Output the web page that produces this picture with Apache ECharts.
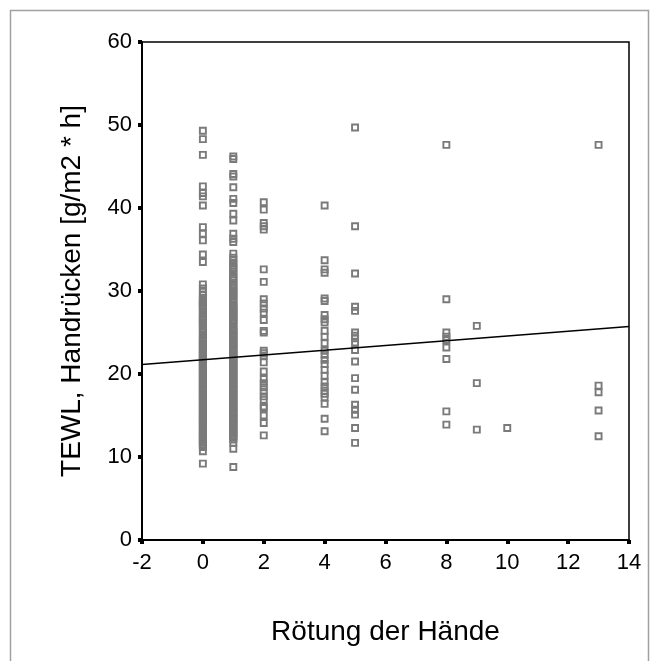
<!DOCTYPE html>
<html>
<head>
<meta charset="utf-8">
<script src="https://cdn.jsdelivr.net/npm/echarts@6/dist/echarts.min.js"></script>
<style>
html,body{margin:0;padding:0;background:#fff;}
#chart{width:659px;height:661px;}
</style>
</head>
<body>
<div id="chart"></div>
<script>
// Rötung der Hände (x) -> TEWL values (y)
const rednessLevels = [0, 1, 2, 4, 5, 8, 9, 10, 13];
const tewl_r0 = [49.3, 48.3, 46.4, 42.6, 41.8, 41.4, 40.3, 37.7, 36.9, 36.1, 34.4, 33.5, 30.8, 30.3, 29.9, 29.5,
  29.2, 29.0, 28.8, 28.6, 28.5, 28.3, 28.1, 27.9, 27.8, 27.5, 27.2, 26.9, 26.8, 26.6, 26.4, 26.2, 26.1, 25.9, 25.7,
  25.3, 25.2, 25.0, 24.7, 24.4, 24.3, 24.1, 23.9, 23.7, 23.6, 23.4, 23.2, 23.0, 22.9, 22.7, 22.5, 22.3, 22.2, 22.0,
  21.8, 21.6, 21.5, 21.3, 21.1, 20.9, 20.8, 20.6, 20.4, 20.2, 20.1, 19.9, 19.7, 19.5, 19.4, 19.2, 19.0, 18.8, 18.7,
  18.5, 18.3, 18.1, 18.0, 17.8, 17.6, 17.4, 17.3, 17.1, 16.9, 16.7, 16.6, 16.4, 16.2, 16.0, 15.9, 15.7, 15.5, 15.3,
  15.2, 15.0, 14.8, 14.6, 14.5, 14.3, 14.1, 13.9, 13.8, 13.6, 13.4, 13.2, 13.1, 12.9, 12.7, 12.5, 12.4, 12.2, 12.0,
  11.9, 11.7, 11.5, 11.4, 11.2, 10.7, 9.2];
const tewl_r1 = [46.2, 45.9, 44.1, 43.8, 42.5, 41.1, 40.6, 39.3, 38.5, 36.9, 36.3, 35.9, 34.5, 34.0, 33.7, 33.4,
  33.1, 32.8, 32.6, 32.3, 32.0, 31.7, 31.5, 31.3, 31.0, 30.7, 30.5, 30.3, 30.0, 29.8, 29.6, 29.4, 29.1, 28.9, 28.7,
  28.4, 28.2, 28.0, 27.9, 27.7, 27.5, 27.3, 27.2, 27.0, 26.8, 26.6, 26.5, 26.3, 26.1, 25.8, 25.6, 25.4, 25.2, 25.1,
  24.9, 24.7, 24.5, 24.4, 24.2, 24.0, 23.8, 23.7, 23.5, 23.3, 23.1, 23.0, 22.8, 22.6, 22.4, 22.3, 22.1, 21.9, 21.7,
  21.6, 21.4, 21.2, 21.0, 20.9, 20.7, 20.5, 20.3, 20.2, 20.0, 19.8, 19.6, 19.5, 19.3, 19.1, 18.9, 18.8, 18.6, 18.4,
  18.2, 18.1, 17.9, 17.7, 17.5, 17.4, 17.2, 17.0, 16.8, 16.7, 16.5, 16.3, 16.1, 16.0, 15.8, 15.6, 15.4, 15.3, 15.1,
  14.9, 14.7, 14.6, 14.4, 14.2, 14.0, 13.9, 13.7, 13.5, 13.3, 13.2, 13.0, 12.8, 12.6, 12.5, 12.3, 12.1, 11.7, 11.0, 8.8];
const tewl_r2 = [40.7, 39.8, 38.2, 37.8, 37.4, 32.6, 31.1, 29.0, 28.5, 27.9, 27.4, 26.5, 25.2, 25.0, 22.8, 22.5,
  22.2, 21.4, 20.3, 19.4, 18.9, 18.4, 17.9, 17.3, 16.9, 16.1, 15.9, 15.0, 14.1, 12.6];
const tewl_r4 = [40.3, 33.7, 32.6, 32.2, 29.1, 28.8, 27.1, 26.6, 26.2, 25.2, 24.5, 23.7, 22.8, 22.3, 21.7, 21.2,
  20.5, 19.8, 19.0, 18.5, 18.0, 17.6, 17.2, 16.4, 14.6, 13.1];
const tewl_r5 = [49.7, 37.8, 32.1, 28.1, 27.6, 25.0, 24.6, 24.3, 23.8, 22.9, 21.5, 19.5, 18.1, 16.3, 15.7, 15.1, 13.5, 11.7];
const tewl_r8 = [47.6, 29.0, 25.0, 24.5, 24.1, 23.2, 21.8, 15.5, 13.9];
const tewl_r9 = [25.8, 18.9, 13.3];
const tewl_r10 = [13.5];
const tewl_r13 = [47.6, 18.6, 17.8, 15.6, 12.5];
// regression line end points
const fitX = [-2, 14];
const fitY = [21.15, 25.72];
const xTicks = [-2, 0, 2, 4, 6, 8, 10, 12, 14];
const yTicks = [0, 10, 20, 30, 40, 50, 60];

const groups = [tewl_r0, tewl_r1, tewl_r2, tewl_r4, tewl_r5, tewl_r8, tewl_r9, tewl_r10, tewl_r13];
const points = [];
groups.forEach((vals, i) => vals.forEach(v => points.push([rednessLevels[i], v])));

const font = '"Liberation Sans", Arial, sans-serif';
const chart = echarts.init(document.getElementById('chart'), null, {renderer: 'canvas'});
chart.setOption({
  animation: false,
  backgroundColor: '#ffffff',
  graphic: [{
    type: 'rect', silent: true, z: -10,
    shape: {x: 10.5, y: 10.5, width: 638, height: 670},
    style: {fill: 'none', stroke: '#a0a0a0', lineWidth: 1.5}
  }],
  grid: {left: 142, right: 30, top: 42, bottom: 121, show: true, borderColor: '#000', borderWidth: 1.5, backgroundColor: 'transparent'},
  xAxis: {
    type: 'value', min: xTicks[0], max: xTicks[xTicks.length - 1], interval: 2,
    name: 'Rötung der Hände', nameLocation: 'middle', nameGap: 78,
    nameTextStyle: {fontFamily: font, fontSize: 28, color: '#000'},
    axisLine: {show: true, onZero: false, lineStyle: {color: '#000', width: 2}},
    axisTick: {show: true, length: 4, lineStyle: {color: '#000', width: 4}},
    axisLabel: {fontFamily: font, fontSize: 22, color: '#000', margin: 12},
    splitLine: {show: false}
  },
  yAxis: {
    type: 'value', min: yTicks[0], max: yTicks[yTicks.length - 1], interval: 10,
    name: 'TEWL, Handrücken [g/m2 * h]', nameLocation: 'middle', nameGap: 56,
    nameTextStyle: {fontFamily: font, fontSize: 28, color: '#000'},
    axisLine: {show: true, onZero: false, lineStyle: {color: '#000', width: 2}},
    axisTick: {show: true, length: 4, lineStyle: {color: '#000', width: 4}},
    axisLabel: {fontFamily: font, fontSize: 22, color: '#000', margin: 10},
    splitLine: {show: false}
  },
  series: [{
    type: 'scatter',
    data: points,
    symbol: 'rect',
    symbolSize: 6,
    itemStyle: {color: 'rgba(0,0,0,0)', borderColor: '#7a7a7a', borderWidth: 1.9, opacity: 1},
    emphasis: {disabled: true},
    z: 2
  }, {
    type: 'line',
    data: fitX.map((x, i) => [x, fitY[i]]),
    showSymbol: false,
    lineStyle: {color: '#000', width: 1.5},
    emphasis: {disabled: true},
    z: 5
  }]
});
</script>
</body>
</html>
